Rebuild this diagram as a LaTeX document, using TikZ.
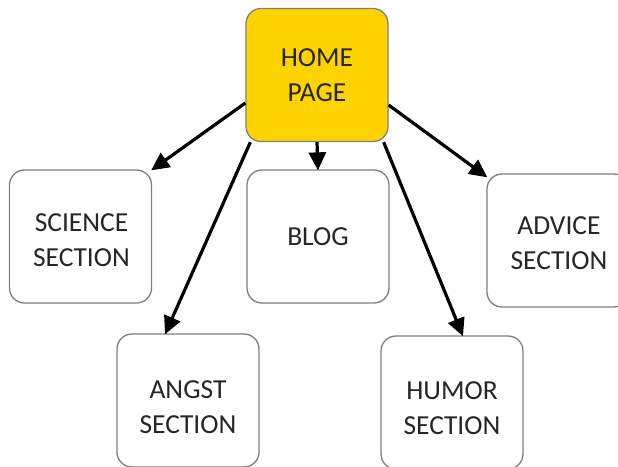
\documentclass[tikz,border=0pt]{standalone}
\usepackage{fontspec}
\setmainfont{Carlito}
\usetikzlibrary{arrows.meta,calc}
\definecolor{homegold}{HTML}{FFD300}
\definecolor{boxgray}{HTML}{7F7F7F}
\definecolor{txt}{HTML}{262626}
\tikzset{
  boxtext/.style={align=center, inner sep=0pt, text=txt,
    font=\fontsize{27.5}{35}\selectfont},
  pagebox/.style={draw=boxgray, line width=1.3pt, rounded corners=15pt, fill=white,
    minimum width=142pt, minimum height=133pt, inner sep=0pt},
  homebox/.style={pagebox, fill=homegold},
  link/.style={draw=black, line width=3.2pt, -{Triangle[length=18pt,width=17pt]}}
}
\begin{document}
\begin{tikzpicture}[x=1pt,y=-1pt]
\useasboundingbox (0,0) rectangle (618,466);
\begin{scope}
\clip (0,0) rectangle (618,466);
\node[homebox, label={[boxtext, name=homet, yshift=0pt]center:{HOME\\PAGE}}] (home) at (317,75) {};
\node[pagebox, label={[boxtext, name=sciencet, yshift=-3.5pt, xshift=1pt]center:{SCIENCE\\SECTION}}] (science) at (80.5,236.5) {};
\node[pagebox, label={[boxtext, name=blogt]center:{BLOG}}] (blog) at (318,236.5) {};
\node[pagebox, label={[boxtext, name=advicet, yshift=-3pt, xshift=1pt]center:{ADVICE\\SECTION}}] (advice) at (558,240.5) {};
\node[pagebox, label={[boxtext, name=angstt, yshift=-6.5pt]center:{ANGST\\SECTION}}] (angst) at (188,400.5) {};
\node[pagebox, label={[boxtext, name=humort, yshift=-5.5pt]center:{HUMOR\\SECTION}}] (humor) at (452,402.5) {};
\draw[link] ($(home.west)+(0,28)$) -- ($(science.north east)+(-1,1)$);
\draw[link] ($(home.south west)+(5,0)$) -- ($(angst.north)+(-23,1)$);
\draw[link] (home.south) -- ($(blog.north)+(0,1)$);
\draw[link] ($(home.south east)+(-5,0)$) -- ($(humor.north)+(11,1)$);
\draw[link] ($(home.east)+(0,30)$) -- ($(advice.north west)+(1,4)$);
\end{scope}
\end{tikzpicture}
\end{document}
